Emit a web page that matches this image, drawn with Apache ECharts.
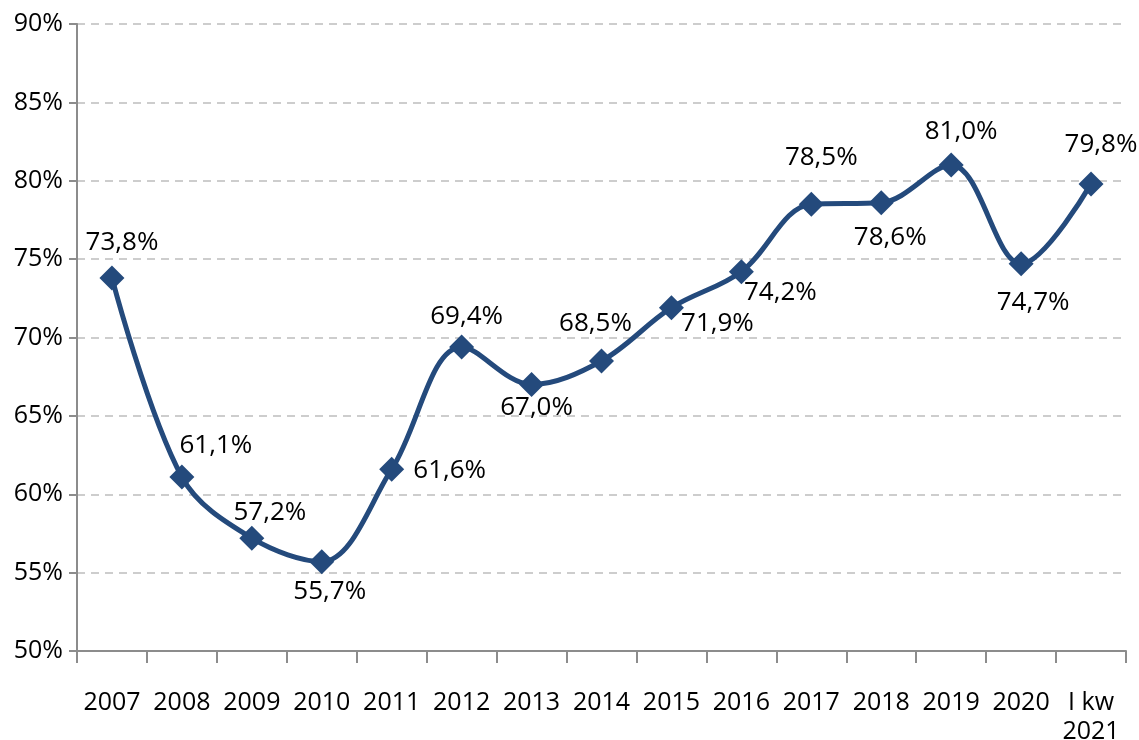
<!DOCTYPE html>
<html>
<head>
<meta charset="utf-8">
<script src="https://cdn.jsdelivr.net/npm/echarts@6/dist/echarts.min.js"></script>
<style>
  html, body { margin: 0; padding: 0; background: #fff; }
  #chart { width: 1139px; height: 740px; }
</style>
</head>
<body>
<div id="chart"></div>
<script>
const categories = ['2007', '2008', '2009', '2010', '2011', '2012', '2013', '2014',
  '2015', '2016', '2017', '2018', '2019', '2020', 'I kw\n2021']
const values = [73.8, 61.1, 57.2, 55.7, 61.6, 69.4, 67.0, 68.5, 71.9, 74.2, 78.5, 78.6, 81.0, 74.7, 79.8]
const yTicks = [50, 55, 60, 65, 70, 75, 80, 85, 90]
// label offset from the marker centre, px
const labelOffsets = [[10, -35], [34, -31], [18, -26], [8, 30], [58, 1], [5, -30], [5, 23], [-6, -37],
  [46, 16], [39, 21], [10, -47], [9, 35], [10, -33], [12, 39], [10, -39]]

const font = '"Open Sans", "Noto Sans", sans-serif'
const chart = echarts.init(document.getElementById('chart'))

chart.setOption({
  animation: false,
  grid: { left: 77, right: 13, top: 24, bottom: 89, containLabel: false, outerBoundsMode: 'none' },
  xAxis: {
    type: 'category',
    data: categories,
    boundaryGap: true,
    axisLine: { lineStyle: { color: '#8c8c8c', width: 2 } },
    axisTick: { show: true, length: 12, lineStyle: { color: '#8c8c8c', width: 2 } },
    axisLabel: {
      color: '#000', fontFamily: font, fontSize: 25, margin: 37, lineHeight: 29, interval: 0
    }
  },
  yAxis: {
    type: 'value',
    min: yTicks[0],
    max: yTicks[yTicks.length - 1],
    interval: 5,
    axisLine: { show: true, lineStyle: { color: '#8c8c8c', width: 2 } },
    axisTick: { show: true, length: 8, lineStyle: { color: '#8c8c8c', width: 2 } },
    axisLabel: {
      color: '#000', fontFamily: font, fontSize: 25, margin: 14,
      formatter: v => v + '%'
    },
    splitLine: { show: true, lineStyle: { color: '#bdbdbd', width: 1.5, type: [8, 6] } }
  },
  series: [{
    type: 'line',
    smooth: 0.35,
    data: values.map((v, i) => ({
      value: v,
      label: { offset: labelOffsets[i] }
    })),
    symbol: 'diamond',
    symbolSize: 25,
    lineStyle: { color: '#244a7c', width: 5 },
    itemStyle: { color: '#244a7c' },
    label: {
      show: true,
      position: 'inside',
      color: '#000',
      fontFamily: font,
      fontSize: 26,
      formatter: p => p.value.toFixed(1).replace('.', ',') + '%'
    }
  }]
})
</script>
</body>
</html>
